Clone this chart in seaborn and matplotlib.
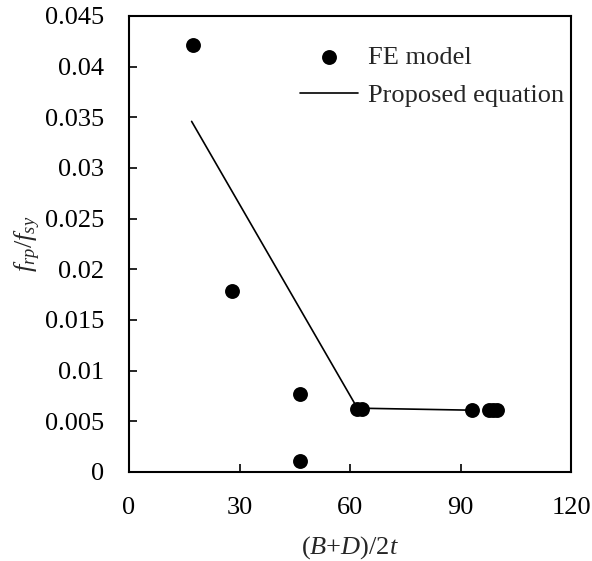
import matplotlib
matplotlib.use("Agg")
import matplotlib.pyplot as plt
import seaborn as sns
import pandas as pd
from matplotlib.ticker import FuncFormatter

# FE model data points
fe_x = [17.5, 28.0, 46.5, 46.5, 62.0, 63.2, 93.0, 97.8, 98.8, 99.8]
fe_y = [0.0421, 0.0179, 0.0077, 0.0011, 0.0062, 0.0062, 0.0061, 0.0061, 0.0061, 0.0061]

# Proposed equation line
eq_x = [17.0, 62.0, 93.0]
eq_y = [0.0346, 0.0063, 0.0061]

x_ticks = [0, 30, 60, 90, 120]
y_ticks = [0, 0.005, 0.01, 0.015, 0.02, 0.025, 0.03, 0.035, 0.04, 0.045]

sns.set_style("ticks")
plt.rcParams['font.family'] = ['Liberation Serif', 'DejaVu Serif']
plt.rcParams['mathtext.fontset'] = 'custom'
plt.rcParams['mathtext.rm'] = 'Liberation Serif'
plt.rcParams['mathtext.it'] = 'Liberation Serif:italic'

fe_df = pd.DataFrame({"x": fe_x, "y": fe_y})
eq_df = pd.DataFrame({"x": eq_x, "y": eq_y})

fig = plt.figure(figsize=(5.92, 5.61), dpi=100)
ax = fig.add_axes([129/592, 1 - 472/561, (571-129)/592, (472-16)/561])

sns.scatterplot(data=fe_df, x="x", y="y", ax=ax, color="black", s=115,
                edgecolor="black", linewidth=0, label="FE model", zorder=3)
sns.lineplot(data=eq_df, x="x", y="y", ax=ax, color="black", linewidth=1.2,
             label="Proposed equation", sort=False, zorder=2)

ax.set_xlim(0, 120)
ax.set_ylim(0, 0.045)
ax.set_xticks(x_ticks)
ax.set_yticks(y_ticks)
ax.yaxis.set_major_formatter(FuncFormatter(lambda v, p: "%g" % round(v, 4)))
ax.tick_params(direction="in", length=6, width=1.2, labelsize=19, colors="black")
ax.tick_params(axis="y", pad=18)
ax.tick_params(axis="x", pad=18)
for s in ax.spines.values():
    s.set_linewidth(1.5)
    s.set_color("black")
    s.set_visible(True)

ax.set_xlabel(r"$(B\mathrm{+}D)/2t$", fontsize=19, labelpad=11)
ax.set_ylabel(r"$f_{rp}/f_{sy}$", fontsize=19, labelpad=1)

leg = ax.legend(loc="upper right", frameon=False, fontsize=19, handlelength=2.2,
                handletextpad=0.4, labelspacing=0.56, borderaxespad=0.0, borderpad=0.0,
                bbox_to_anchor=(0.985, 0.935))

fig.savefig("out.png", dpi=100)
